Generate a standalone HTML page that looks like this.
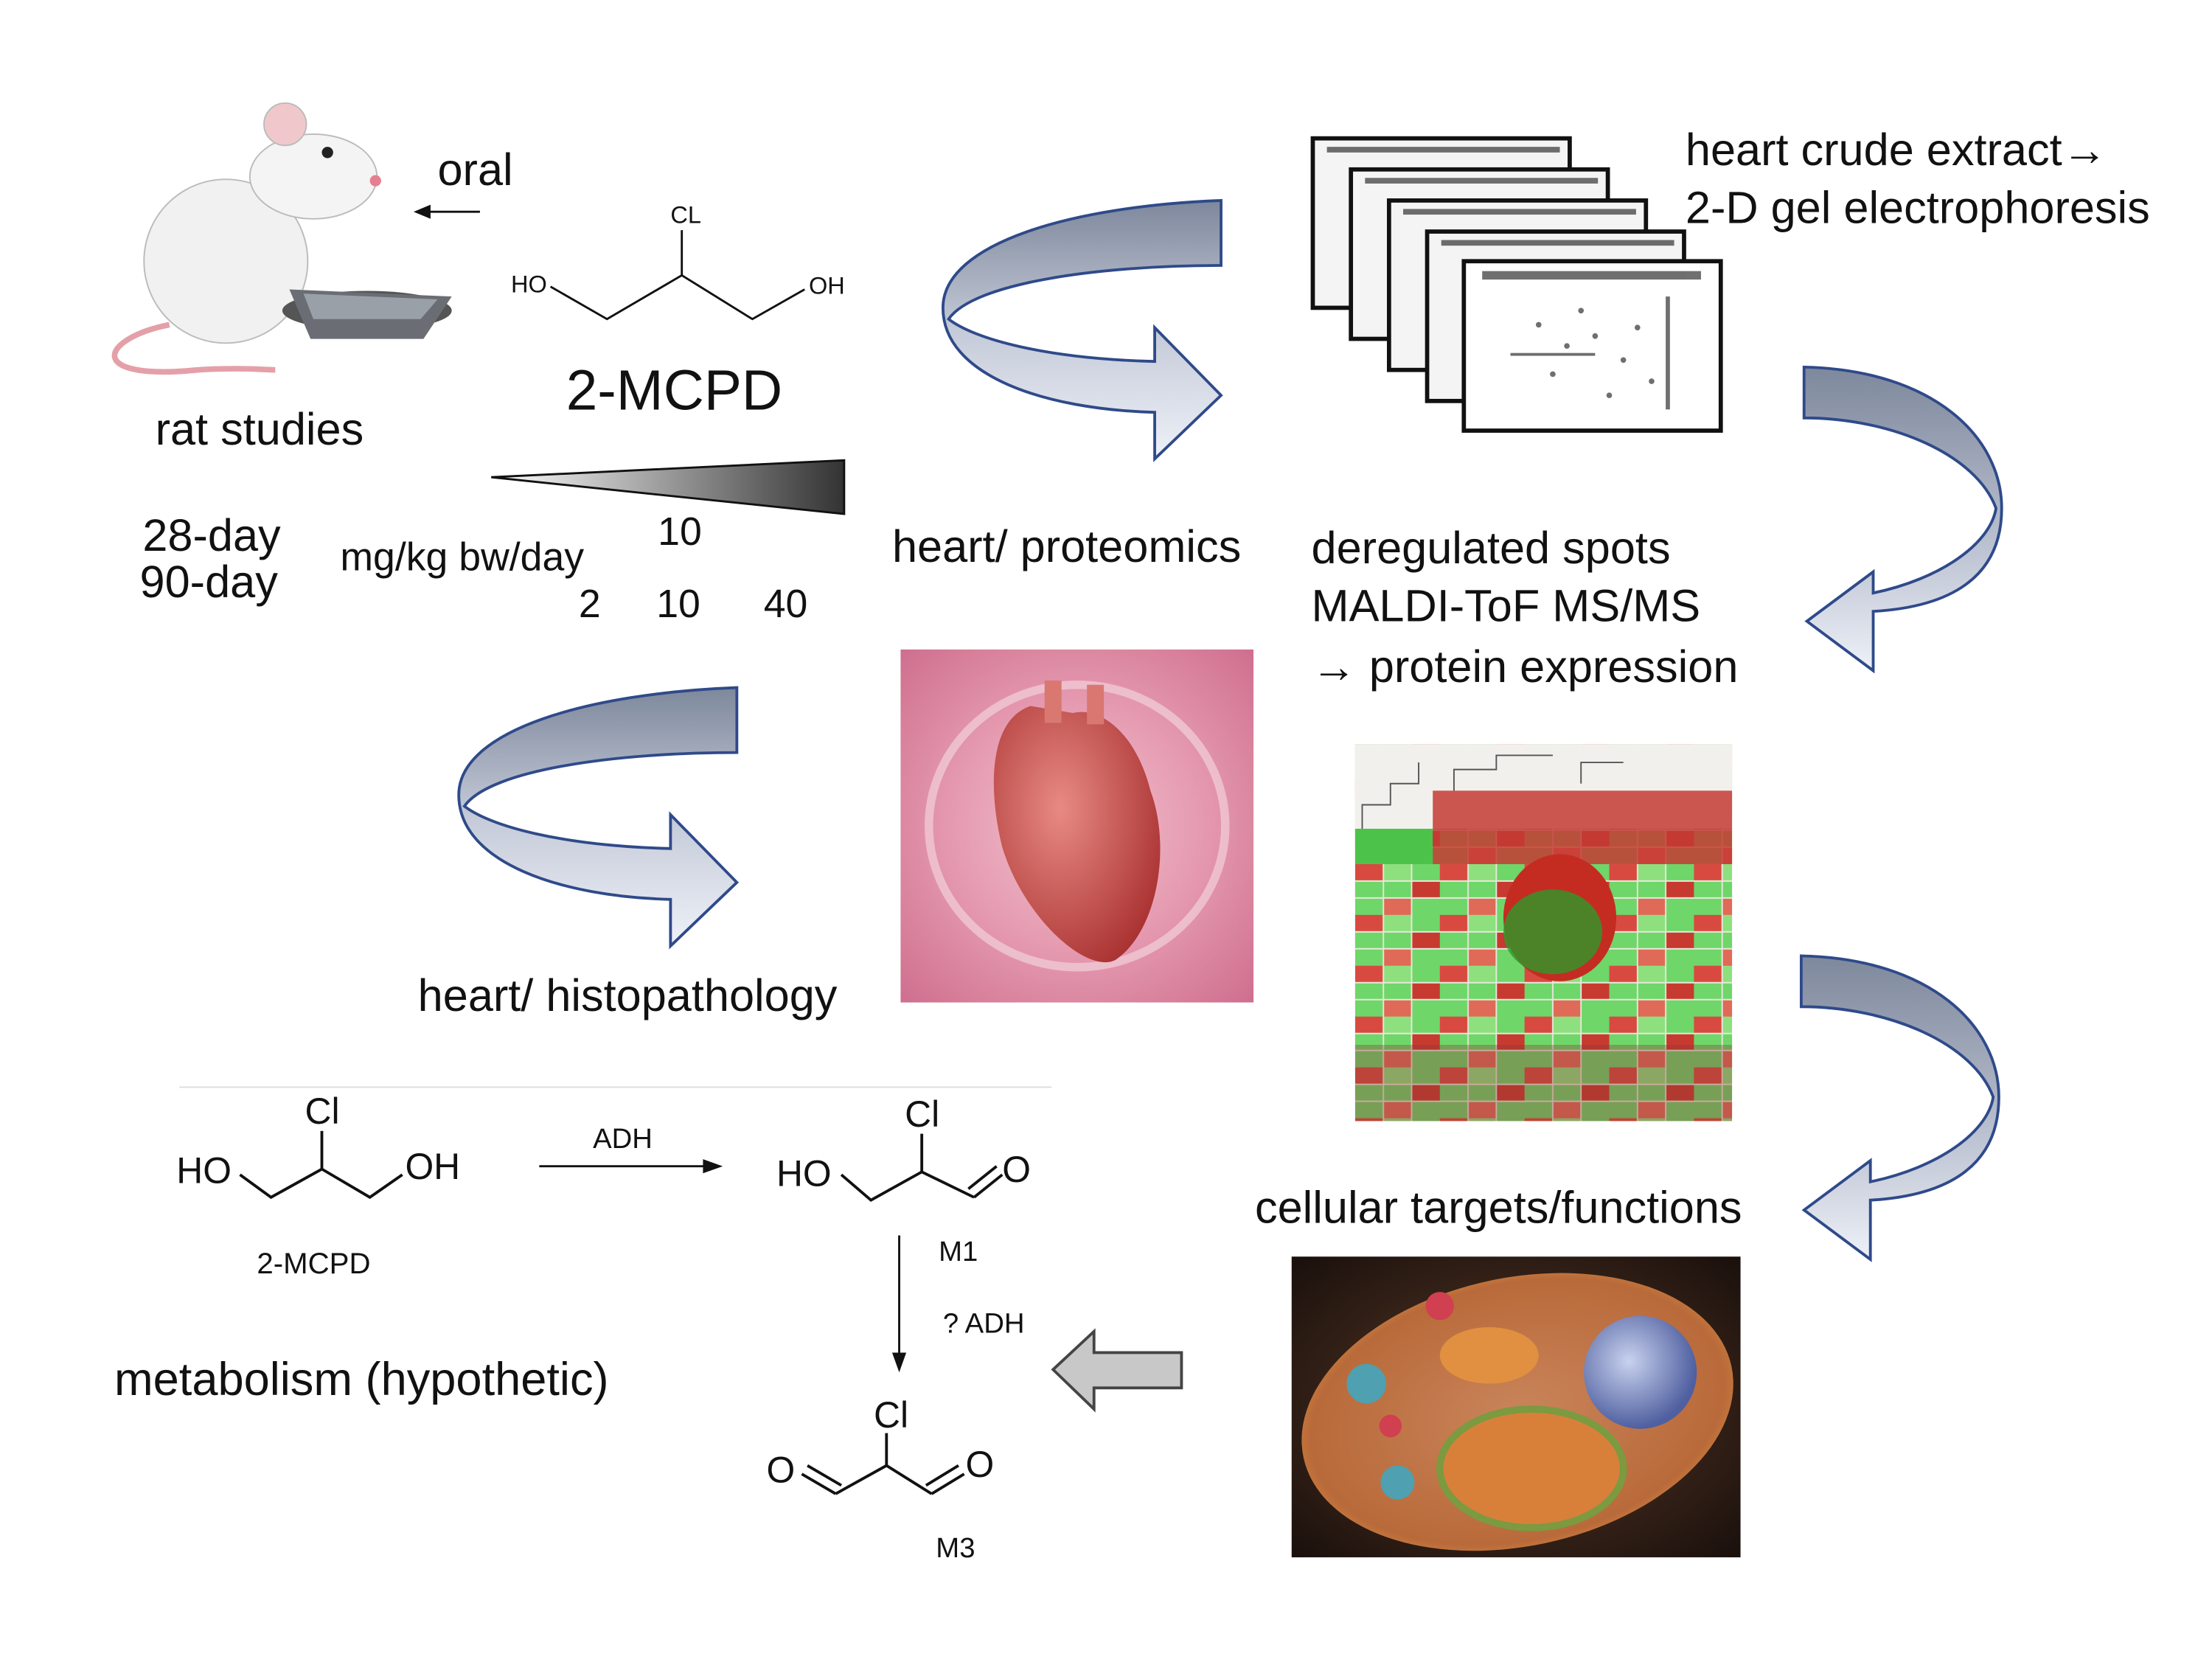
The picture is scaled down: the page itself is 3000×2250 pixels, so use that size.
<!DOCTYPE html>
<html><head><meta charset="utf-8"><style>
html,body{margin:0;padding:0;background:#fff;}
svg{display:block;}
text{font-family:"Liberation Sans","DejaVu Sans",sans-serif;fill:#111;}
.L{font-size:32px;}
</style></head><body>
<svg width="3000" height="2250" viewBox="0 0 1567 1175" preserveAspectRatio="none" xmlns="http://www.w3.org/2000/svg">
<defs>
<linearGradient id="rib" x1="0" y1="0" x2="0" y2="1">
<stop offset="0" stop-color="#7e889c"/><stop offset="0.5" stop-color="#c4cad8"/><stop offset="1" stop-color="#eef1f8"/></linearGradient>
<linearGradient id="ribv" x1="0" y1="0" x2="0" y2="1">
<stop offset="0" stop-color="#7e889c"/><stop offset="0.55" stop-color="#b6bdcd"/><stop offset="1" stop-color="#eef1f8"/></linearGradient>
<linearGradient id="wedge" x1="0" y1="0" x2="1" y2="0">
<stop offset="0" stop-color="#fff"/><stop offset="1" stop-color="#333"/></linearGradient>
<radialGradient id="pink" cx="0.5" cy="0.5" r="0.7">
<stop offset="0" stop-color="#f2c2cf"/><stop offset="0.5" stop-color="#e59ab0"/><stop offset="1" stop-color="#cf6f8f"/></radialGradient>
<radialGradient id="heart" cx="0.4" cy="0.4" r="0.7">
<stop offset="0" stop-color="#e88a84"/><stop offset="1" stop-color="#a8302f"/></radialGradient>
<radialGradient id="cellbg" cx="0.5" cy="0.5" r="0.7">
<stop offset="0" stop-color="#5a3a28"/><stop offset="1" stop-color="#1a100c"/></radialGradient>
<radialGradient id="cell" cx="0.5" cy="0.5" r="0.6">
<stop offset="0" stop-color="#c9845a"/><stop offset="0.8" stop-color="#b96a3a"/><stop offset="1" stop-color="#e8a040"/></radialGradient>
<radialGradient id="nuc" cx="0.4" cy="0.4" r="0.6">
<stop offset="0" stop-color="#c8d2ee"/><stop offset="1" stop-color="#4f5fa0"/></radialGradient>
<pattern id="heat" width="60" height="36" patternUnits="userSpaceOnUse">
<rect width="60" height="36" fill="#6fd66a"/>
<rect x="0" y="0" width="20" height="12" fill="#d84a40"/>
<rect x="40" y="12" width="20" height="12" fill="#c63a30"/>
<rect x="20" y="24" width="20" height="12" fill="#e06a58"/>
<rect x="20" y="0" width="20" height="12" fill="#8ee07e"/>
<path d="M0 12H60M0 24H60M20 0V36M40 0V36" stroke="#e8e8d8" stroke-width="1"/>
</pattern>
</defs>

<!-- rat -->
<path d="M120 230 C70 240 60 270 140 262 C170 260 190 262 195 262" fill="none" stroke="#e4a0a8" stroke-width="4"/>
<ellipse cx="160" cy="185" rx="58" ry="58" fill="#f1f1f1" stroke="#bbb"/>
<ellipse cx="222" cy="125" rx="45" ry="30" fill="#f4f4f4" stroke="#bbb"/>
<circle cx="202" cy="88" r="15" fill="#f0c8cc" stroke="#bbb"/>
<circle cx="232" cy="108" r="4" fill="#222"/>
<circle cx="266" cy="128" r="4" fill="#e48090"/>
<ellipse cx="260" cy="220" rx="60" ry="14" fill="#555"/>
<path d="M205 205 L320 210 L300 240 L220 240 Z" fill="#6a6e74"/>
<path d="M215 208 L310 212 L298 226 L222 226Z" fill="#9aa0a8"/>

<text x="310" y="131" class="L">oral</text>
<line x1="340" y1="150" x2="300" y2="150" stroke="#111" stroke-width="1.5"/>
<path d="M293 150 L305 145 L305 155Z" fill="#111"/>

<!-- 2-MCPD top -->
<text x="362" y="207" font-size="17">HO</text>
<text x="475" y="158" font-size="17">CL</text>
<text x="573" y="208" font-size="17">OH</text>
<polyline points="390,203 430,226 483,195 533,226 570,205" fill="none" stroke="#111" stroke-width="1.5"/>
<line x1="483" y1="163" x2="483" y2="195" stroke="#111" stroke-width="1.5"/>
<text x="401" y="290" font-size="40">2-MCPD</text>
<text x="110" y="315" class="L">rat studies</text>
<polygon points="348,338 598,326 598,364" fill="url(#wedge)" stroke="#111" stroke-width="1.5"/>
<text x="101" y="390" class="L">28-day</text>
<text x="99" y="423" class="L">90-day</text>
<text x="241" y="404" font-size="28">mg/kg bw/day</text>
<text x="466" y="386" font-size="28">10</text>
<text x="410" y="437" font-size="28">2</text>
<text x="465" y="437" font-size="28">10</text>
<text x="541" y="437" font-size="28">40</text>

<!-- ribbon arrows -->
<g stroke="#2f4a8a" stroke-width="2" fill="url(#rib)">
<path d="M865 142 C760 146 668 172 668 218 C668 266 740 290 818 292 L818 325 L865 280 L818 232 L818 256 C740 254 690 240 672 226 C690 200 780 188 865 188 Z"/>
<path transform="translate(-343,345)" d="M865 142 C760 146 668 172 668 218 C668 266 740 290 818 292 L818 325 L865 280 L818 232 L818 256 C740 254 690 240 672 226 C690 200 780 188 865 188 Z"/>
</g>
<g stroke="#2f4a8a" stroke-width="2" fill="url(#ribv)">
<path d="M1278 260 C1370 262 1418 310 1418 360 C1418 410 1380 430 1327 433 L1327 475 L1280 440 L1327 405 L1327 420 C1375 410 1410 385 1414 360 C1400 322 1340 296 1278 296 Z"/>
<path transform="translate(-2,417)" d="M1278 260 C1370 262 1418 310 1418 360 C1418 410 1380 430 1327 433 L1327 475 L1280 440 L1327 405 L1327 420 C1375 410 1410 385 1414 360 C1400 322 1340 296 1278 296 Z"/>
</g>
<text x="632" y="398" class="L">heart/ proteomics</text>

<!-- gels -->
<g stroke="#111" stroke-width="3" fill="#f4f4f4">
<rect x="930" y="98" width="182" height="120"/>
<rect x="957" y="120" width="182" height="120"/>
<rect x="984" y="142" width="182" height="120"/>
<rect x="1011" y="164" width="182" height="120"/>
<rect x="1037" y="185" width="182" height="120" fill="#fff"/>
</g>
<g fill="#333" opacity="0.7">
<rect x="940" y="104" width="165" height="4"/><rect x="967" y="126" width="165" height="4"/>
<rect x="994" y="148" width="165" height="4"/><rect x="1021" y="170" width="165" height="4"/>
<rect x="1050" y="192" width="155" height="6"/>
<circle cx="1090" cy="230" r="2"/><circle cx="1110" cy="245" r="2"/><circle cx="1130" cy="238" r="2"/>
<circle cx="1150" cy="255" r="2"/><circle cx="1100" cy="265" r="2"/><circle cx="1170" cy="270" r="2"/>
<circle cx="1120" cy="220" r="2"/><circle cx="1160" cy="232" r="2"/><circle cx="1140" cy="280" r="2"/>
<rect x="1180" y="210" width="3" height="80"/><rect x="1070" y="250" width="60" height="2"/>
</g>
<text x="1194" y="117" class="L">heart crude extract→</text>
<text x="1194" y="158" class="L">2-D gel electrophoresis</text>
<text x="929" y="399" class="L">deregulated spots</text>
<text x="929" y="440" class="L">MALDI-ToF MS/MS</text>
<text x="929" y="483" class="L">→  protein expression</text>

<!-- heart image -->
<rect x="638" y="460" width="250" height="250" fill="url(#pink)"/>
<ellipse cx="763" cy="585" rx="105" ry="100" fill="none" stroke="#f5dbe3" stroke-width="6" opacity="0.6"/>
<path d="M730 500 C700 510 700 560 710 600 C725 650 770 690 790 680 C820 660 830 600 815 560 C805 520 780 500 760 505 Z" fill="url(#heart)"/>
<rect x="740" y="482" width="12" height="30" fill="#d97870"/><rect x="770" y="485" width="12" height="28" fill="#d97870"/>
<text x="296" y="716" class="L">heart/ histopathology</text>

<!-- heatmap -->
<rect x="960" y="527" width="267" height="267" fill="url(#heat)"/>
<rect x="960" y="527" width="267" height="60" fill="#f2f0ec"/>
<rect x="960" y="587" width="55" height="25" fill="#4cc24a"/>
<rect x="1015" y="560" width="212" height="52" fill="#c43a34" opacity="0.85"/>
<path d="M965 587 V570 H985 V555 H1005 V540 M1030 560 V545 H1060 V535 H1100 M1120 555 V540 H1150" fill="none" stroke="#555" stroke-width="1"/>
<ellipse cx="1105" cy="650" rx="40" ry="45" fill="#c42c22"/>
<ellipse cx="1100" cy="660" rx="35" ry="30" fill="#2e9a2a" opacity="0.8"/>
<rect x="960" y="740" width="267" height="54" fill="#8a3a30" opacity="0.35"/>

<text x="889" y="866" class="L">cellular targets/functions</text>

<!-- cell -->
<rect x="915" y="890" width="318" height="213" fill="url(#cellbg)"/>
<ellipse cx="1075" cy="1000" rx="155" ry="95" fill="url(#cell)" transform="rotate(-12 1075 1000)"/>
<ellipse cx="1085" cy="1040" rx="65" ry="42" fill="#d8803a" stroke="#7c9a40" stroke-width="5"/>
<ellipse cx="1055" cy="960" rx="35" ry="20" fill="#e09040"/>
<circle cx="1162" cy="972" r="40" fill="url(#nuc)"/>
<circle cx="968" cy="980" r="14" fill="#4fa0b0"/><circle cx="990" cy="1050" r="12" fill="#4fa0b0"/>
<circle cx="1020" cy="925" r="10" fill="#d04050"/><circle cx="985" cy="1010" r="8" fill="#d04050"/>

<!-- block arrow -->
<path d="M837 958 L775 958 L775 943 L746 970 L775 998 L775 983 L837 983 Z" fill="#c8c8c8" stroke="#444" stroke-width="2"/>

<!-- metabolism -->
<line x1="127" y1="770" x2="745" y2="770" stroke="#ddd" stroke-width="1"/>
<g stroke="#111" stroke-width="2" fill="none">
<polyline points="170,832 192,848 228,828 262,848 285,832"/>
<line x1="228" y1="801" x2="228" y2="828"/>
<line x1="382" y1="826" x2="500" y2="826" stroke-width="1.5"/>
<polyline points="596,832 617,850 653,830 690,848"/>
<line x1="653" y1="803" x2="653" y2="830"/>
<line x1="690" y1="848" x2="710" y2="832"/><line x1="686" y1="842" x2="706" y2="826"/>
<line x1="637" y1="875" x2="637" y2="960" stroke-width="1.5"/>
<polyline points="592,1058 628,1038 660,1058"/>
<line x1="628" y1="1015" x2="628" y2="1038"/>
<line x1="568" y1="1044" x2="592" y2="1058"/><line x1="572" y1="1038" x2="596" y2="1052"/>
<line x1="660" y1="1058" x2="683" y2="1044"/><line x1="656" y1="1052" x2="679" y2="1038"/>
</g>
<path d="M512 826 L498 821 L498 831Z" fill="#111"/>
<path d="M637 972 L632 958 L642 958Z" fill="#111"/>
<text x="125" y="838" font-size="26">HO</text>
<text x="216" y="796" font-size="26">Cl</text>
<text x="287" y="835" font-size="26">OH</text>
<text x="182" y="902" font-size="21">2-MCPD</text>
<text x="420" y="813" font-size="20">ADH</text>
<text x="550" y="840" font-size="26">HO</text>
<text x="641" y="798" font-size="26">Cl</text>
<text x="710" y="837" font-size="26">O</text>
<text x="665" y="893" font-size="20">M1</text>
<text x="668" y="944" font-size="20">? ADH</text>
<text x="543" y="1050" font-size="26">O</text>
<text x="619" y="1011" font-size="26">Cl</text>
<text x="684" y="1046" font-size="26">O</text>
<text x="663" y="1103" font-size="20">M3</text>
<text x="81" y="988" font-size="33">metabolism (hypothetic)</text>
</svg>
</body></html>
